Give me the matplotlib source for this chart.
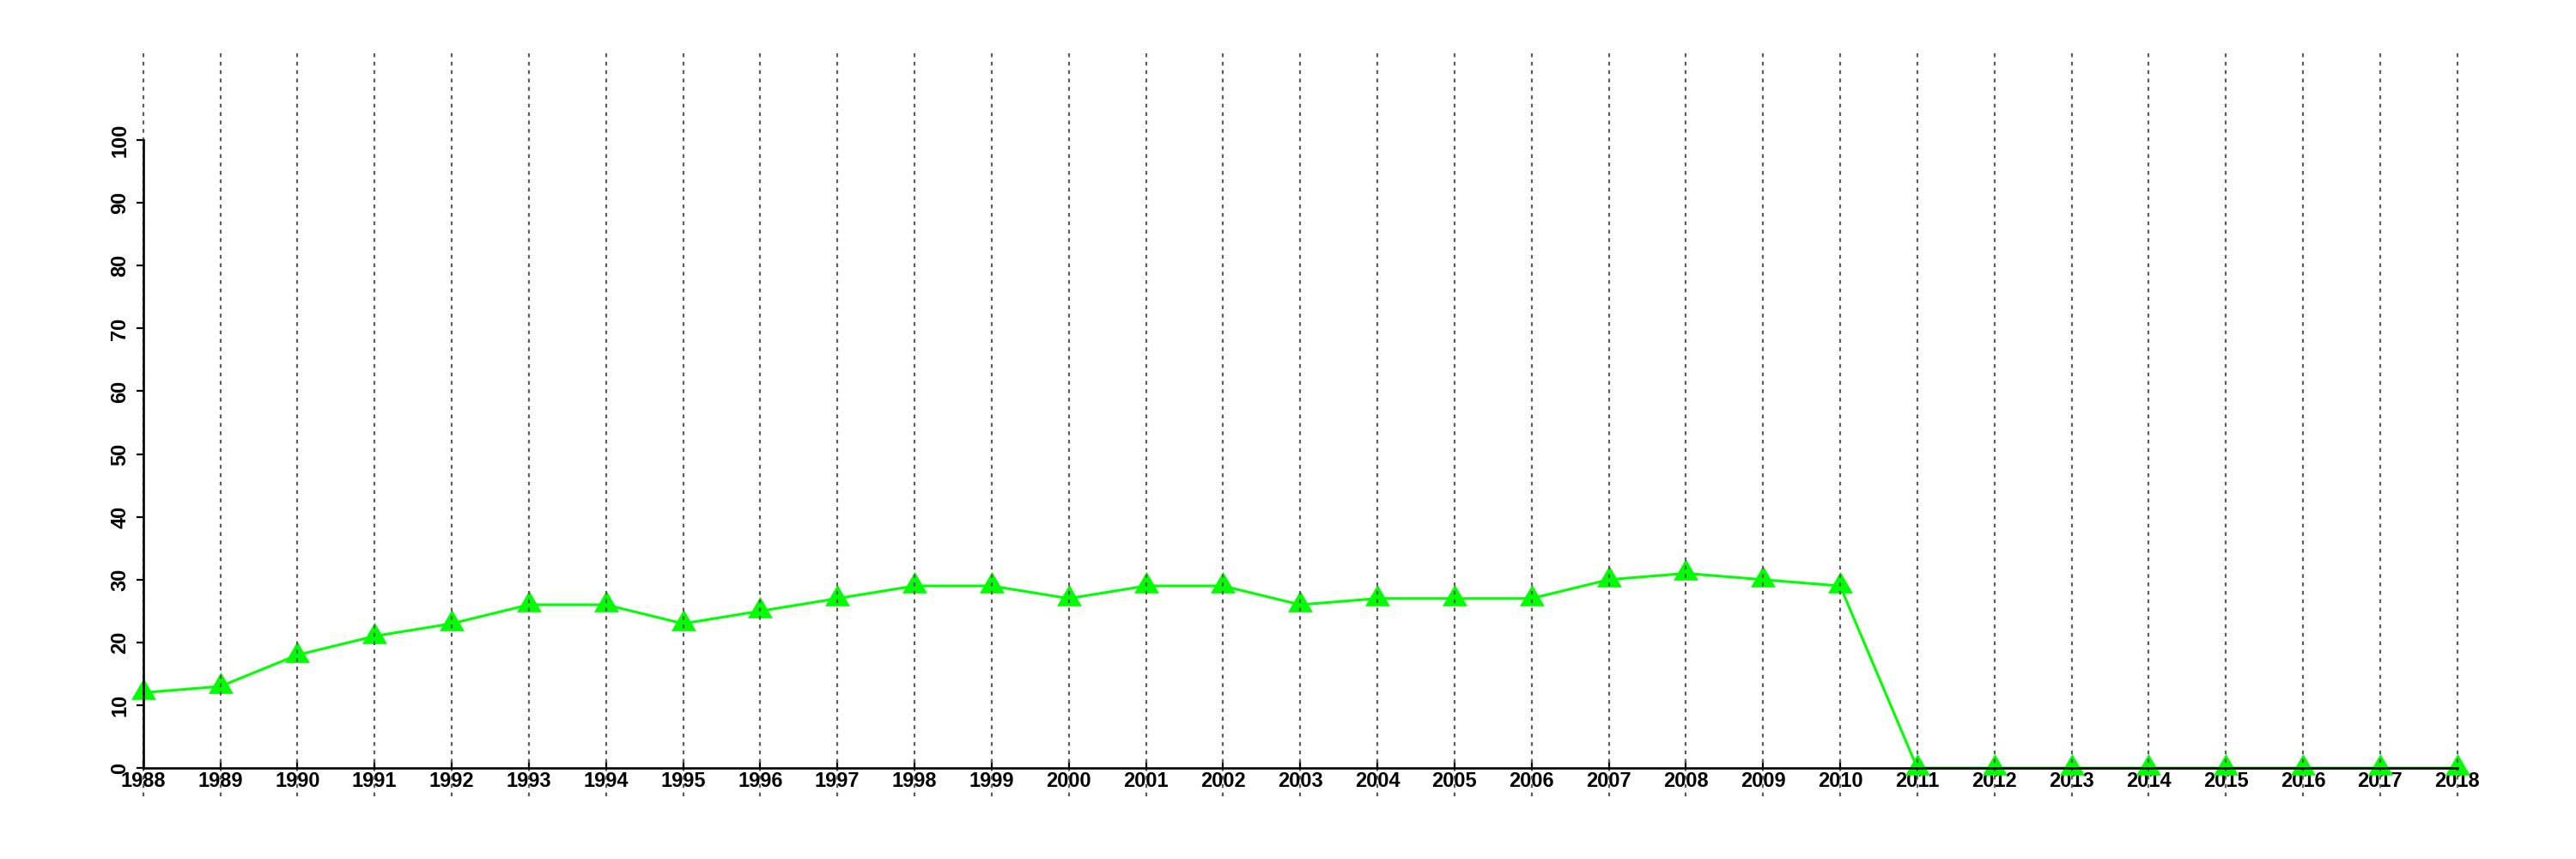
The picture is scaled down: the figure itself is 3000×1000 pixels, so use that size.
import matplotlib
matplotlib.use("Agg")
import matplotlib.pyplot as plt

years = list(range(1988, 2019))
values = [12, 13, 18, 21, 23, 26, 26, 23, 25, 27, 29, 29, 27, 29, 29, 26,
          27, 27, 27, 30, 31, 30, 29, 0, 0, 0, 0, 0, 0, 0, 0]
y_ticks = [0, 10, 20, 30, 40, 50, 60, 70, 80, 90, 100]

plt.rcParams['font.family'] = ['Liberation Sans', 'DejaVu Sans']

fig = plt.figure(figsize=(30, 10), dpi=100)
ax = fig.add_axes([0.02563, 0.073, 0.9582, 0.867])

for yr in years:
    ax.axvline(yr, color='#5e5e5e', lw=1.6, ls=(0, (2, 2.4)), zorder=4)

tri = [(-1, -0.577), (1, -0.577), (0, 1.155), (-1, -0.577)]
ax.plot(years, values, color='#00ff00', lw=2.2, marker=tri, markersize=24,
        markeredgewidth=0, zorder=3, clip_on=False)

ax.set_xlim(1987, 2019)
ax.set_ylim(-4.5, 114.1)

for s in ['top', 'right']:
    ax.spines[s].set_visible(False)
ax.spines['bottom'].set_position(('data', 0))
ax.spines['bottom'].set_bounds(1988, 2018)
ax.spines['left'].set_position(('data', 1988))
ax.spines['left'].set_bounds(0, 100)
for s in ['bottom', 'left']:
    ax.spines[s].set_linewidth(1.9)
    ax.spines[s].set_zorder(5)

ax.set_xticks(years)
ax.set_xticklabels([str(y) for y in years], fontsize=17, fontweight='bold')
ax.set_yticks(y_ticks)
ax.set_yticklabels([str(v) for v in y_ticks], fontsize=17, fontweight='bold',
                   rotation=90, va='center')
ax.tick_params(axis='x', direction='in', length=6, width=1.6, pad=3)
ax.tick_params(axis='y', direction='out', length=6, width=1.6, pad=5)

fig.savefig('out.png', dpi=100)
